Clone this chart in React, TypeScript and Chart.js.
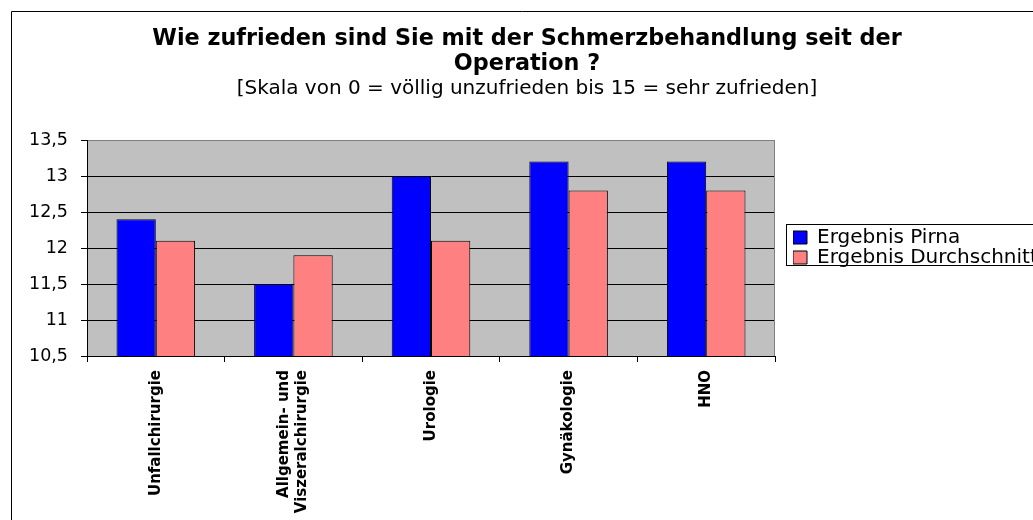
import React, { useEffect, useRef } from 'react';
import { Chart, registerables, CategoryScale } from 'chart.js';

Chart.register(...registerables);

// Category scale that centres multi-line rotated labels on their category
class CenteredCategoryScale extends CategoryScale {
  static id = 'centeredCategory';
  _computeLabelItems(chartArea: any) {
    const items = (super._computeLabelItems as any).call(this, chartArea);
    items.forEach((item: any, i: number) => {
      const tick = (this as any).ticks[i];
      const label = tick && tick.label;
      if (Array.isArray(label) && label.length > 1) {
        const lh = (this as any)._resolveTickFontOptions(i).lineHeight;
        const t = item.options && item.options.translation;
        if (t) t[0] -= ((label.length - 1) * lh) / 2;
      }
    });
    return items;
  }
}
Chart.register(CenteredCategoryScale as any);

const FONT = 'DejaVu Sans';

const titleLines = ['Wie zufrieden sind Sie mit der Schmerzbehandlung seit der', 'Operation ?'];
const subtitleText = '[Skala von 0 = völlig unzufrieden bis 15 = sehr zufrieden]';
const categories: (string | string[])[] = [
  'Unfallchirurgie',
  ['Allgemein- und', 'Viszeralchirurgie'],
  'Urologie',
  'Gynäkologie',
  'HNO',
];
const seriesNames = ['Ergebnis Pirna', 'Ergebnis Durchschnitt'];
const pirna = [12.4, 11.5, 13.0, 13.2, 13.2];
const durchschnitt = [12.1, 11.9, 12.1, 12.8, 12.8];
const yTicks = [10.5, 11, 11.5, 12, 12.5, 13, 13.5];
const colors = ['#0000FF', '#FF8080'];

const LEGEND_FONT = 20;
const LEGEND_PAD = 0;

const decorPlugin = {
  id: 'decor',
  afterLayout(chart: any) {
    const a = chart.chartArea;
    // centre title + subtitle over the same point as the original
    for (const box of chart.boxes) {
      if (box.fullSize && box.options && box.options.position === 'top') {
        box.left += 14.5;
        box.right += 14.5;
      }
    }
    const lg = chart.legend;
    if (lg) {
      const dx = a.right + 18 - LEGEND_PAD - lg.left;
      lg.left += dx;
      lg.right += dx;
      const colH = 2 * (LEGEND_FONT + LEGEND_PAD);
      const current = (lg.top + LEGEND_PAD + lg.bottom - colH) / 2;
      const desired = a.top + 87.5;
      const dy = desired - current;
      lg.top += dy;
      lg.bottom += dy;
    }
  },
  beforeDraw(chart: any) {
    const { ctx, chartArea: a } = chart;
    ctx.save();
    ctx.fillStyle = '#C0C0C0';
    ctx.fillRect(a.left, a.top, a.right - a.left, a.bottom - a.top);
    ctx.restore();
  },
  beforeDatasetsDraw(chart: any) {
    const { ctx, chartArea: a } = chart;
    ctx.save();
    ctx.strokeStyle = '#808080';
    ctx.lineWidth = 1;
    ctx.beginPath();
    ctx.moveTo(a.left + 1, Math.round(a.top) + 0.5);
    ctx.lineTo(Math.round(a.right) - 0.5, Math.round(a.top) + 0.5);
    ctx.lineTo(Math.round(a.right) - 0.5, Math.round(a.bottom));
    ctx.stroke();
    ctx.restore();
  },
  afterDraw(chart: any) {
    const { ctx } = chart;
    ctx.save();
    ctx.strokeStyle = '#000';
    ctx.lineWidth = 1;
    ctx.beginPath();
    ctx.moveTo(11.5, chart.height);
    ctx.lineTo(11.5, 11.5);
    ctx.lineTo(chart.width, 11.5);
    ctx.stroke();
    const lg = chart.legend;
    const hb = lg && lg.legendHitBoxes;
    if (hb && hb.length) {
      const x = Math.round(hb[0].left) - 7 + 0.5;
      const top = Math.round(hb[0].top) - 4 + 0.5;
      const last = hb[hb.length - 1];
      const bottom = Math.round(last.top + last.height) - 3 + 0.5;
      ctx.strokeStyle = '#000';
      ctx.strokeRect(x, top, chart.width, bottom - top);
    }
    ctx.restore();
  },
};

export default function App() {
  const ref = useRef<HTMLCanvasElement>(null);
  useEffect(() => {
    if (!ref.current) return;
    Chart.defaults.color = '#000';
    Chart.defaults.font.family = FONT;
    const chart = new Chart(ref.current, {
      type: 'bar',
      data: {
        labels: categories as any,
        datasets: [
          {
            label: seriesNames[0],
            data: pirna,
            backgroundColor: colors[0],
            borderColor: '#000',
            borderWidth: 1,
            categoryPercentage: 0.571,
            barPercentage: 1,
          },
          {
            label: seriesNames[1],
            data: durchschnitt,
            backgroundColor: colors[1],
            borderColor: '#000',
            borderWidth: 1,
            categoryPercentage: 0.571,
            barPercentage: 1,
          },
        ],
      },
      options: {
        responsive: false,
        animation: false,
        events: [],
        layout: { padding: { left: 10, right: 18, top: 0, bottom: 0 } },
        plugins: {
          title: {
            display: true,
            text: titleLines,
            color: '#000',
            font: { family: FONT, size: 22.3, weight: 'bold', lineHeight: 25 / 22.3 },
            padding: { top: 27, bottom: 0 },
          },
          subtitle: {
            display: true,
            text: subtitleText,
            color: '#000',
            font: { family: FONT, size: 20, weight: 'normal', lineHeight: 1.2 },
            padding: { top: 0, bottom: 39 },
          },
          legend: {
            display: true,
            position: 'right',
            align: 'center',
            maxWidth: 240,
            labels: {
              boxWidth: 14,
              boxHeight: 13,
              padding: LEGEND_PAD,
              color: '#000',
              font: { family: FONT, size: LEGEND_FONT },
            },
          },
          tooltip: { enabled: false },
        },
        scales: {
          x: {
            type: 'centeredCategory' as any,
            offset: true,
            grid: {
              display: true,
              drawOnChartArea: false,
              drawTicks: true,
              tickLength: 6,
              color: '#000',
              offset: true,
            },
            border: { display: true, color: '#000', width: 1 },
            ticks: {
              minRotation: 90,
              maxRotation: 90,
              autoSkip: false,
              padding: 8,
              color: '#000',
              font: { family: FONT, size: 15, weight: 'bold', lineHeight: 1.2 },
            },
            afterFit: (s: any) => {
              s.height = 164;
            },
          },
          y: {
            min: 10.5,
            max: 13.5,
            afterBuildTicks: (s: any) => {
              s.ticks = yTicks.map((v) => ({ value: v }));
            },
            ticks: {
              padding: 13,
              color: '#000',
              font: { family: FONT, size: 17.5 },
              callback: (v: any) => String(v).replace('.', ','),
            },
            grid: {
              color: (c: any) => (c.tick && c.tick.value === 13.5 ? '#808080' : '#000'),
              tickColor: '#000',
              tickLength: 6,
              drawTicks: true,
            },
            border: { display: true, color: '#000', width: 1 },
            afterFit: (s: any) => {
              s.width = 77;
            },
          },
        },
      },
      plugins: [decorPlugin],
    } as any);
    return () => chart.destroy();
  }, []);

  return (
    <div
      style={{
        position: 'fixed',
        left: 0,
        top: 0,
        width: 1033,
        height: 520,
        overflow: 'hidden',
        background: '#fff',
      }}
    >
      <canvas ref={ref} width={1033} height={520} style={{ display: 'block' }} />
    </div>
  );
}
